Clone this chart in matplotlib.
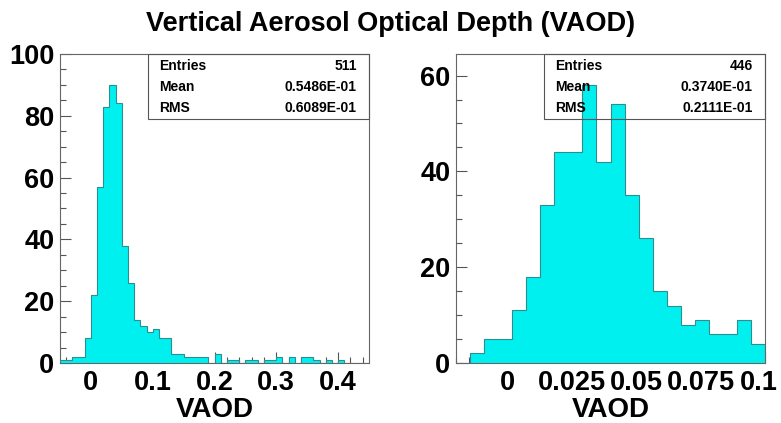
import matplotlib.pyplot as plt
import numpy as np
from matplotlib.ticker import MultipleLocator, FixedLocator
from matplotlib.transforms import ScaledTranslation

plt.rcParams['font.family'] = ['Liberation Sans', 'DejaVu Sans']
plt.rcParams['font.weight'] = 'bold'

# left histogram: 50 bins of 0.01 from -0.05 to 0.45
left_range = (-0.05, 0.45)
left_counts = [1, 1, 2, 2, 8, 22, 57, 83, 90, 84,
               38, 26, 14, 12, 10, 11, 8, 8, 3, 3,
               2, 2, 2, 2, 0, 3, 0, 1, 1, 0,
               1, 1, 0, 1, 1, 2, 0, 2, 0, 2,
               2, 1, 0, 1, 0, 1, 0, 0, 0, 0]
left_stats = ['511', '0.5486E-01', '0.6089E-01']

# right histogram: 22 bins from -0.02 to 0.1
right_range = (-0.02, 0.1)
right_counts = [0, 2, 5, 5, 11, 18, 33, 44, 44, 58, 42,
                54, 35, 26, 15, 12, 8, 9, 6, 6, 9, 4]
right_stats = ['446', '0.3740E-01', '0.2111E-01']

stat_names = ['Entries', 'Mean', 'RMS']

fig = plt.figure(figsize=(7.81, 4.23), dpi=100)
fig.text(0.5, 0.975, 'Vertical Aerosol Optical Depth (VAOD)', ha='center', va='top',
         fontsize=19.5, fontweight='bold')

W, H = 781, 423


def panel(x0, counts, rng, ymax, xmin, xticks, xticklabels, stats):
    ax = fig.add_axes([x0 / W, (H - 363) / H, 309 / W, 309 / H])
    edges = np.linspace(rng[0], rng[1], len(counts) + 1)
    ax.stairs(counts, edges, fill=True, color='#00f0f0', zorder=2)
    ax.stairs(counts, edges, color='#2b8f8f', linewidth=0.8, zorder=3)
    ax.set_xlim(*rng)
    ax.set_ylim(0, ymax)
    ax.xaxis.set_major_locator(FixedLocator(xticks))
    ax.set_xticklabels(xticklabels)
    ax.xaxis.set_minor_locator(MultipleLocator(xmin))
    ax.yaxis.set_major_locator(MultipleLocator(20))
    ax.yaxis.set_minor_locator(MultipleLocator(5))
    ax.tick_params(which='both', direction='in', top=False, right=False,
                   colors='#555555', labelcolor='black', width=0.8)
    ax.tick_params(which='major', length=8, labelsize=19.5)
    ax.tick_params(which='minor', length=4)
    ax.tick_params(axis='x', pad=5)
    ax.tick_params(axis='y', pad=4)
    for s in ax.spines.values():
        s.set_color('#666666')
        s.set_linewidth(0.8)
    ax.set_xlabel('VAOD', fontsize=20, fontweight='bold', labelpad=1)

    # stats box
    bx0 = 0.285
    ax.add_patch(plt.Rectangle((bx0, 0.79), 1 - bx0, 0.21, transform=ax.transAxes,
                               fill=False, edgecolor='#555555', linewidth=0.8,
                               zorder=5, clip_on=False))
    for i, (name, val) in enumerate(zip(stat_names, stats)):
        y = 0.96 - i * 0.068
        ax.text(bx0 + 0.035, y, name, transform=ax.transAxes, fontsize=10,
                fontweight='bold', va='center', ha='left', zorder=6)
        ax.text(0.96, y, val, transform=ax.transAxes, fontsize=10,
                fontweight='bold', va='center', ha='right', zorder=6)
    return ax


panel(60, left_counts, left_range, 100, 0.02,
      [0, 0.1, 0.2, 0.3, 0.4], ['0', '0.1', '0.2', '0.3', '0.4'], left_stats)
axr = panel(456, right_counts, right_range, 64.5, 0.005,
            [0, 0.025, 0.05, 0.075, 0.1], ['0', '0.025', '0.05', '0.075', '0.1'], right_stats)

# keep the last right-hand label inside the picture, as in the reference
last = axr.get_xticklabels()[-1]
last.set_transform(last.get_transform() + ScaledTranslation(-6 / 100, 0, fig.dpi_scale_trans))

fig.savefig('out.png', dpi=100)
